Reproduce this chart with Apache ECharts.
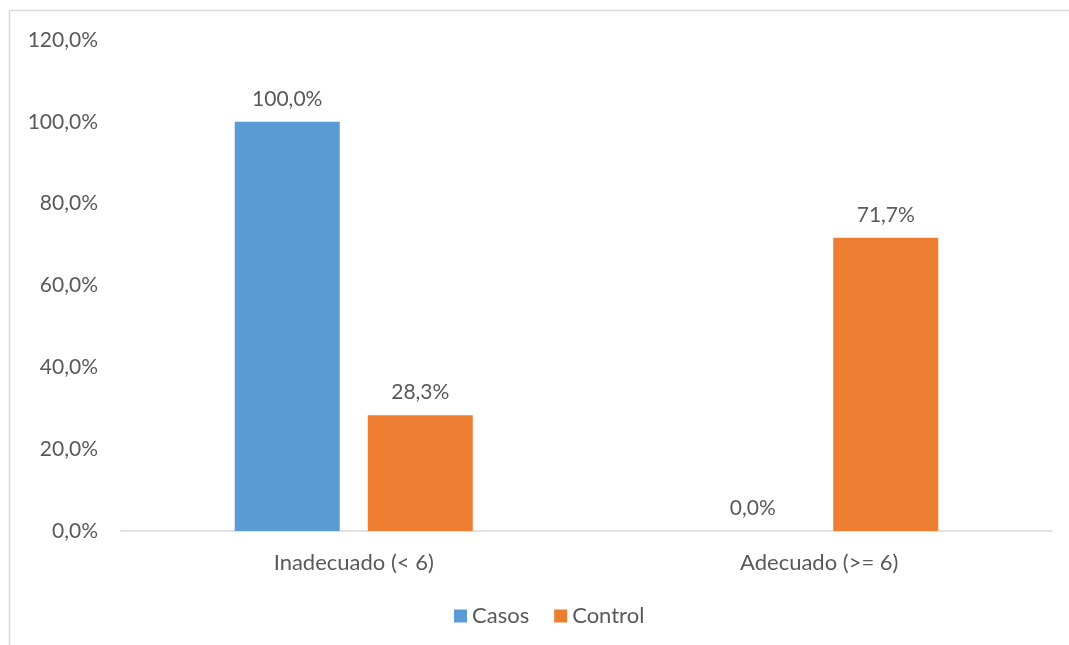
<!DOCTYPE html>
<html>
<head>
<meta charset="utf-8">
<script src="https://cdn.jsdelivr.net/npm/echarts@6/dist/echarts.min.js"></script>
<style>
  html, body { margin: 0; padding: 0; background: #fff; }
  #chart { width: 1069px; height: 645px; }
</style>
</head>
<body>
<div id="chart"></div>
<script>
// Categories and series values (percent)
const categories = ['Inadecuado (< 6)', 'Adecuado (>= 6)'];
const casos = [100.0, 0.0];
const control = [28.3, 71.7];
const seriesNames = ['Casos', 'Control'];
const yTicks = { min: 0, max: 120, interval: 20 };

const FONT = 'Lato';
const TEXT = '#595959';
const pct = v => v.toFixed(1).replace('.', ',') + '%';

const chart = echarts.init(document.getElementById('chart'));

const labelStyle = {
  show: true,
  position: 'top',
  distance: 12,
  color: TEXT,
  fontFamily: FONT,
  fontSize: 21,
  formatter: p => pct(p.value)
};

// chart-area frame: top and left edges (the rest runs off the canvas)
const frameStyle = { stroke: '#d9d9d9', lineWidth: 1.5 };

chart.setOption({
  animation: false,
  backgroundColor: '#fff',
  textStyle: { fontFamily: FONT },
  graphic: [
    { type: 'line', shape: { x1: 9.5, y1: 10.5, x2: 1069, y2: 10.5 }, style: frameStyle, silent: true },
    { type: 'line', shape: { x1: 9.5, y1: 10.5, x2: 9.5, y2: 645 }, style: frameStyle, silent: true }
  ],
  grid: { left: 121, right: 17, top: 40, bottom: 114, containLabel: false },
  legend: {
    data: seriesNames,
    bottom: 13,
    left: 449,
    itemWidth: 13,
    itemHeight: 13,
    itemGap: 25,
    icon: 'rect',
    textStyle: { color: TEXT, fontFamily: FONT, fontSize: 22 }
  },
  xAxis: {
    type: 'category',
    data: categories,
    axisLine: { lineStyle: { color: '#d9d9d9', width: 1.5 } },
    axisTick: { show: false },
    axisLabel: { color: TEXT, fontFamily: FONT, fontSize: 22, margin: 21 }
  },
  yAxis: {
    type: 'value',
    min: yTicks.min,
    max: yTicks.max,
    interval: yTicks.interval,
    axisLine: { show: false },
    axisTick: { show: false },
    splitLine: { show: false },
    axisLabel: { color: TEXT, fontFamily: FONT, fontSize: 21, margin: 23, formatter: v => pct(v) }
  },
  series: [
    {
      name: seriesNames[0], type: 'bar', data: casos,
      barWidth: 105, barGap: '26.7%',
      itemStyle: { color: '#5b9bd5' },
      label: labelStyle
    },
    {
      name: seriesNames[1], type: 'bar', data: control,
      barWidth: 105, barGap: '26.7%',
      itemStyle: { color: '#ed7d31' },
      label: labelStyle
    }
  ]
});
</script>
</body>
</html>
